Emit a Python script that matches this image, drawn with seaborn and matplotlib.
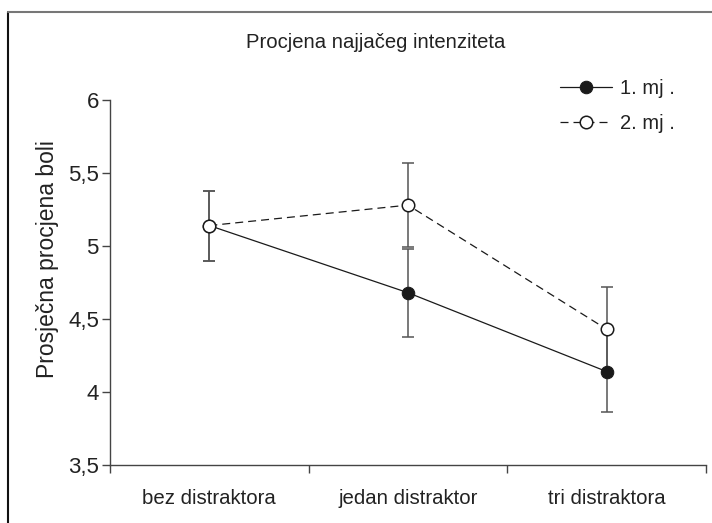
import numpy as np
import pandas as pd
import matplotlib
matplotlib.use("Agg")
import matplotlib.pyplot as plt
import seaborn as sns
from matplotlib.lines import Line2D

# Data
categories = ["bez distraktora", "jedan distraktor", "tri distraktora"]
mj1 = [5.14, 4.68, 4.14]
mj2 = [5.14, 5.28, 4.43]
err1 = [0.24, 0.30, 0.28]
err2 = [0.24, 0.29, 0.29]
ytick_vals = [3.5, 4, 4.5, 5, 5.5, 6]
ytick_labels = ["3,5", "4", "4,5", "5", "5,5", "6"]

sns.set_style("ticks")
plt.rcParams["font.family"] = ["Liberation Sans", "DejaVu Sans"]
txt = "#222222"
axc = "#444444"

df1 = pd.DataFrame({"pos": np.arange(len(categories)), "val": mj1})
df2 = pd.DataFrame({"pos": np.arange(len(categories)), "val": mj2})

fig = plt.figure(figsize=(7.12, 5.23), dpi=100)
ax = fig.add_axes([110 / 712, 1 - 465 / 523, 596 / 712, 365 / 523])

# error bars behind the markers
ax.errorbar(df1["pos"], df1["val"], yerr=err1, fmt="none", ecolor="#555555",
            elinewidth=1.1, capsize=4.5, capthick=1.1, zorder=1)
ax.errorbar(df2["pos"], df2["val"], yerr=err2, fmt="none", ecolor="#555555",
            elinewidth=1.1, capsize=4.5, capthick=1.1, zorder=1)

sns.lineplot(data=df1, x="pos", y="val", ax=ax, color="#1a1a1a", linewidth=0.9,
             marker="o", markersize=9, markerfacecolor="#1a1a1a",
             markeredgecolor="#1a1a1a", label="1. mj .", zorder=3)
sns.lineplot(data=df2, x="pos", y="val", ax=ax, color="#1a1a1a", linewidth=0.9,
             linestyle=(0, (6.4, 4)), marker="o", markersize=9,
             markerfacecolor="white", markeredgecolor="#1a1a1a",
             markeredgewidth=1.1, label="2. mj .", zorder=4)

ax.set_xlim(-0.5, len(categories) - 0.5)
ax.set_ylim(3.5, 6)
ax.set_xticks(np.arange(-0.5, len(categories), 1.0))
ax.set_xticklabels([])
ax.set_xticks(np.arange(len(categories)), minor=True)
ax.set_xticklabels(categories, minor=True)
ax.tick_params(axis="x", which="minor", length=0, pad=17, labelsize=14.7, labelcolor=txt)
ax.tick_params(axis="x", which="major", length=6, width=1, color=axc)
ax.set_yticks(ytick_vals)
ax.set_yticklabels(ytick_labels)
ax.tick_params(axis="y", length=6, width=1, color=axc, pad=2, labelsize=16, labelcolor=txt)

ax.set_xlabel("")
ax.set_ylabel("Prosječna procjena boli", fontsize=16.5, color=txt)
ax.yaxis.set_label_coords(-0.085, 0.565)

for s in ["top", "right"]:
    ax.spines[s].set_visible(False)
for s in ["left", "bottom"]:
    ax.spines[s].set_color(axc)
    ax.spines[s].set_linewidth(1)

ax.legend(loc="upper left", bbox_to_anchor=(560 / 712, 1 - 79 / 523),
          bbox_transform=fig.transFigure, frameon=False, fontsize=14.5,
          handlelength=2.6, handletextpad=0.4, labelspacing=0.8,
          borderpad=0, borderaxespad=0, labelcolor=txt)

fig.text(376 / 712, 1 - 43 / 523, "Procjena najjačeg intenziteta",
         ha="center", va="center", fontsize=14.6, color=txt)

# outer frame (left and top edges visible in the reference)
fig.add_artist(Line2D([8 / 712, 8 / 712], [0, 1 - 12 / 523], transform=fig.transFigure,
                      color="#111111", linewidth=1.5))
fig.add_artist(Line2D([8 / 712, 1], [1 - 12 / 523, 1 - 12 / 523], transform=fig.transFigure,
                      color="#777777", linewidth=1.5))

fig.savefig("out.png", dpi=100)
